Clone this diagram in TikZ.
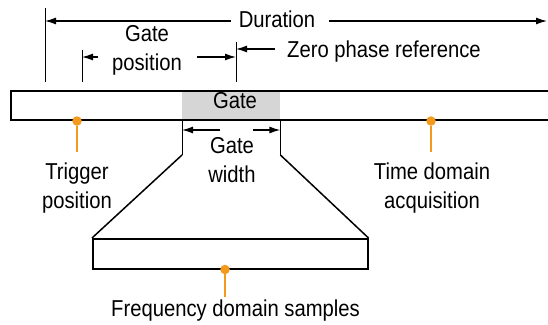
\documentclass[tikz,border=0pt]{standalone}
\usepackage{fontspec}
\setmainfont{Liberation Sans}[FakeStretch=0.88]
\usetikzlibrary{arrows.meta,positioning}

\definecolor{markorange}{RGB}{243,153,30}
\definecolor{gategray}{RGB}{214,214,214}

\begin{document}
\begin{tikzpicture}
[
	x=1pt,y=-1pt,
	every node/.style={font=\fontsize{23}{29}\selectfont},
	lbl/.style={anchor=base,align=center,inner sep=0pt},
	bar/.style={draw,line width=1.5pt,inner sep=0pt,anchor=north west},
	tick/.style={line width=0.8pt},
	dim/.style={-{Latex[length=11pt,width=7pt]},line width=1.3pt},
	dot/.style={circle,fill=markorange,inner sep=0pt,minimum size=9.5pt},
	marker/.style={markorange,line width=1.4pt}
]

	\useasboundingbox (0,0) rectangle (548,324);

	% time record with the gate
	\node[fill=gategray,inner sep=0pt,anchor=north west,minimum width=98pt,minimum height=29pt] (gate) at (182,90) {};
	\node[bar,minimum width=570pt,minimum height=29pt] (acq) at (10,90) {};
	\node[lbl] (gatetxt) at (235,108) {Gate};

	% duration
	\coordinate (durtop) at (45,8);
	\coordinate (durbot) at (45,82);
	\draw[tick] (durtop) -- (durbot);
	\node[lbl] (dur) at (277,27) {Duration};
	\draw[dim] (dur.west |- 0,21) ++(-8,0) -- (durtop |- 0,21);
	\coordinate (durend) at (547,21);
	\draw[dim] (dur.east |- 0,21) ++(14,0) -- (durend);

	% gate position
	\coordinate (postop) at (82,50);
	\coordinate (posbot) at (82,82);
	\coordinate (zerotop) at (236,42);
	\coordinate (zerobot) at (236,82);
	\draw[tick] (postop) -- (posbot);
	\draw[tick] (zerotop) -- (zerobot);
	\node[lbl] (pos) at (147,70) {Gate\\position};
	\draw[dim] (98,57) -- (postop |- 0,57);
	\draw[dim] (197,57) -- (zerotop |- 0,57);

	% zero phase reference
	\node[lbl,anchor=base west] (zero) at (287,57) {Zero phase reference};
	\draw[dim] (275,49) -- (zerotop |- 0,49);

	% gate width
	\coordinate (gwl) at (gate.south west |- 0,155);
	\coordinate (gwr) at (gate.south east |- 0,155);
	\draw[tick] (gate.south west) -- (gwl);
	\draw[tick] (gate.south east) -- (gwr);
	\draw[dim] (220,130) -- (gate.south west |- 0,130);
	\draw[dim] (253,130) -- (gate.south east |- 0,130);
	\node[lbl] (gw) at (232,182) {Gate\\width};

	% frequency domain samples
	\node[bar,minimum width=275pt,minimum height=30pt] (freq) at (92,238) {};
	\draw[line width=1.5pt] (gwl) -- (freq.north west);
	\draw[line width=1.5pt] (gwr) -- (freq.north east);

	% markers
	\node[dot] (trig) at (77,121) {};
	\node[dot] (time) at (431,121) {};
	\node[dot] (samp) at (freq.south -| 225,0) {};
	\coordinate (trigend) at (77,152);
	\coordinate (timeend) at (431,152);
	\coordinate (sampend) at (225,297);
	\draw[marker] (trig) -- (trigend);
	\draw[marker] (time) -- (timeend);
	\draw[marker] (samp) -- (sampend);

	\node[lbl] (trigtxt) at (77,208) {Trigger\\position};
	\node[lbl] (timetxt) at (432,208) {Time domain\\acquisition};
	\node[lbl] (samptxt) at (235.5,316) {Frequency domain samples};

\end{tikzpicture}
\end{document}
